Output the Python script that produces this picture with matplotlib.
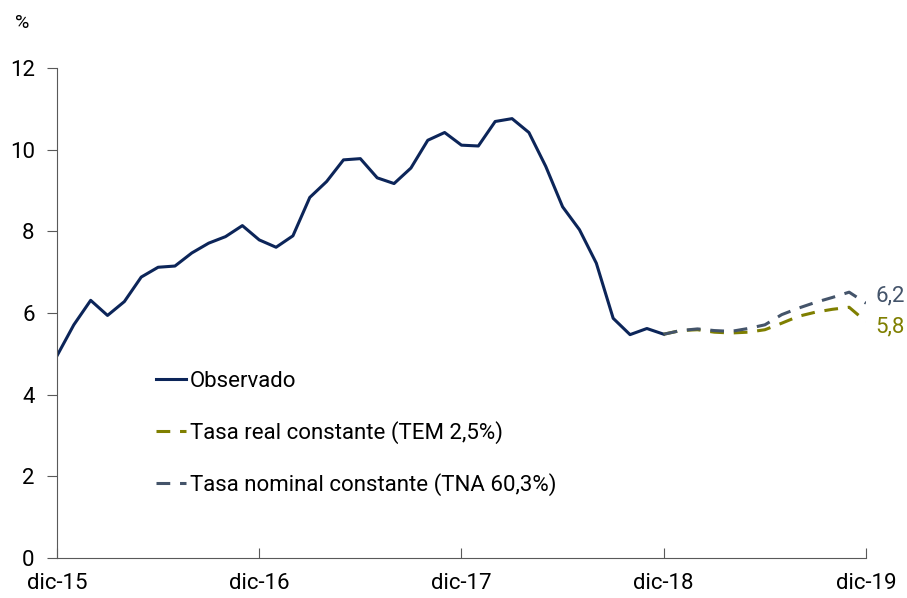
import matplotlib
matplotlib.use('Agg')
import matplotlib.pyplot as plt

plt.rcParams['font.family'] = ['Roboto', 'DejaVu Sans']

# meses desde dic-15 (0) hasta dic-19 (48)
observado = [4.95, 5.71, 6.31, 5.94, 6.28, 6.88, 7.12, 7.15, 7.47, 7.71,
             7.87, 8.14, 7.79, 7.61, 7.89, 8.83, 9.22, 9.75, 9.78, 9.31,
             9.17, 9.55, 10.23, 10.42, 10.11, 10.09, 10.69, 10.76, 10.42, 9.59,
             8.60, 8.04, 7.22, 5.87, 5.47, 5.62, 5.48]
tasa_real = [5.48, 5.57, 5.59, 5.53, 5.51, 5.53, 5.59, 5.75, 5.92, 6.02,
             6.09, 6.14, 5.79]
tasa_nominal = [5.48, 5.57, 5.61, 5.57, 5.55, 5.62, 5.71, 5.96, 6.12, 6.26,
                6.38, 6.51, 6.24]
etiquetas_x = ['dic-15', 'dic-16', 'dic-17', 'dic-18', 'dic-19']
posiciones_x = [0, 12, 24, 36, 48]

x_obs = list(range(len(observado)))
x_proy = list(range(36, 36 + len(tasa_real)))

col_obs = '#0c2559'
col_real = '#7f7f00'
col_nom = '#44546a'

fig = plt.figure(figsize=(9.07, 5.98), dpi=100)
ax = fig.add_axes([0.0628, 0.0669, 0.892, 0.8194])

ax.plot(x_obs, observado, color=col_obs, lw=2.2, label='Observado')
ax.plot(x_proy, tasa_real, color=col_real, lw=2.2, dashes=(4.5, 3.2),
        label='Tasa real constante (TEM 2,5%)')
ax.plot(x_proy, tasa_nominal, color=col_nom, lw=2.2, dashes=(4.5, 3.2),
        label='Tasa nominal constante (TNA 60,3%)')

ax.annotate('6,2', (x_proy[-1], tasa_nominal[-1]), xytext=(7, 5),
            textcoords='offset points', color=col_nom, fontsize=16,
            va='center', ha='left', annotation_clip=False)
ax.annotate('5,8', (x_proy[-1], tasa_real[-1]), xytext=(7, -4),
            textcoords='offset points', color=col_real, fontsize=16,
            va='center', ha='left', annotation_clip=False)

ax.set_xlim(0, 48)
ax.set_ylim(0, 12)
ax.set_yticks([0, 2, 4, 6, 8, 10, 12])
ax.set_xticks(posiciones_x)
ax.set_xticklabels(etiquetas_x)

for s in ['top', 'right']:
    ax.spines[s].set_visible(False)
ax.spines['left'].set_color('#595959')
ax.spines['bottom'].set_color('#595959')
ax.tick_params(axis='y', direction='out', length=7, color='#595959',
               labelsize=16, pad=9)
ax.tick_params(axis='x', direction='in', length=7, color='#595959',
               labelsize=16, pad=11)
ax.set_yticklabels(['0', '2', '4', '6', '8', '10', '12'])

fig.text(0.016, 0.962, '%', fontsize=14, ha='left', va='center')

leg = ax.legend(loc='upper left', bbox_to_anchor=(0.109, 0.405), frameon=False,
                fontsize=16, handlelength=1.35, handletextpad=0.15,
                labelspacing=1.32, borderpad=0)

fig.savefig('out.png', dpi=100)
